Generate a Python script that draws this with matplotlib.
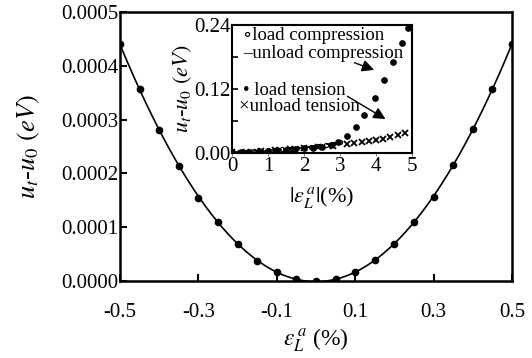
import numpy as np
import matplotlib
matplotlib.use("Agg")
import matplotlib.pyplot as plt

plt.rcParams['font.family'] = ['Liberation Serif', 'DejaVu Serif']
plt.rcParams['mathtext.fontset'] = 'stix'

# main curve: energy vs axial strain
strain = [-0.5, -0.45, -0.4, -0.35, -0.3, -0.25, -0.2, -0.15, -0.1, -0.05, 0.0,
          0.05, 0.1, 0.15, 0.2, 0.25, 0.3, 0.35, 0.4, 0.45, 0.5]
energy = [0.00044, 0.000357, 0.000281, 0.000214, 0.000155, 0.00011, 0.000068, 0.000037,
          0.0000167, 0.000004, 0.0, 0.000004, 0.0000167, 0.000039, 0.000069, 0.00011,
          0.000157, 0.000215, 0.000282, 0.000357, 0.00044]

# inset series
lc_x = [0.0, 0.2, 0.4, 0.6, 0.8, 1.0, 1.2, 1.4, 1.6, 1.8, 2.0, 2.2, 2.4, 2.6, 2.8, 3.0]
lc_y = [0.001, 0.0015, 0.002, 0.003, 0.004, 0.005, 0.006, 0.007, 0.008, 0.009, 0.010,
        0.012, 0.013, 0.015, 0.017, 0.020]
uc_x = [0.1, 0.3, 0.5, 0.7, 0.9, 1.1, 1.3, 1.5, 1.7, 1.9, 2.1, 2.3, 2.5, 2.7, 2.9]
uc_y = [0.001, 0.002, 0.0025, 0.0035, 0.0045, 0.0055, 0.0065, 0.0075, 0.0085, 0.0095,
        0.011, 0.0125, 0.014, 0.016, 0.018]
lt_x = [0.0, 0.25, 0.5, 0.75, 1.0, 1.25, 1.5, 1.75, 2.0, 2.25, 2.5, 2.75, 2.95,
        3.19, 3.44, 3.67, 3.98, 4.22, 4.46, 4.71, 4.9]
lt_y = [0.001, 0.0015, 0.002, 0.003, 0.004, 0.005, 0.006, 0.007, 0.009, 0.010, 0.012,
        0.015, 0.020, 0.031, 0.048, 0.071, 0.104, 0.136, 0.170, 0.207, 0.234]
ut_x = [0.0, 0.4, 0.8, 1.2, 1.6, 2.0, 2.4, 2.8, 3.2, 3.4, 3.6, 3.8, 4.0, 4.2, 4.4, 4.6, 4.8]
ut_y = [0.001, 0.002, 0.004, 0.005, 0.007, 0.009, 0.011, 0.013, 0.017, 0.019, 0.021,
        0.023, 0.025, 0.027, 0.030, 0.033, 0.037]

fig = plt.figure(figsize=(5.32, 3.58), dpi=100)
ax = fig.add_axes([0.2256, 0.2151, 0.7368, 0.7514])

# fitted parabola through the points
coef = np.polyfit(strain, energy, 2)
xs = np.linspace(-0.5, 0.5, 200)
ax.plot(xs, np.polyval(coef, xs), color='black', lw=1.2)
ax.plot(strain, energy, 'o', color='black', ms=4.5)

ax.set_xlim(-0.5, 0.5)
ax.set_ylim(0, 0.0005)
ax.set_xticks([-0.5, -0.3, -0.1, 0.1, 0.3, 0.5])
ax.set_xticklabels(['-0.5', '-0.3', '-0.1', '0.1', '0.3', '0.5'])
ax.set_yticks([0, 0.0001, 0.0002, 0.0003, 0.0004, 0.0005])
ax.set_yticklabels(['0.0000', '0.0001', '0.0002', '0.0003', '0.0004', '0.0005'])
ax.tick_params(direction='in', length=5, width=1.5, labelsize=15)
ax.tick_params(axis='x', pad=16)
ax.tick_params(axis='y', pad=1)
for s in ax.spines.values():
    s.set_linewidth(1.8)
ax.set_xlabel(r'$\varepsilon_L^{\,a}$ (%)', fontsize=17, labelpad=3)
ax.set_ylabel(r'$u_t$-$u_0$ $(eV)$', fontsize=19, labelpad=14)

# inset
ins = fig.add_axes([0.4361, 0.5726, 0.3383, 0.3576])
ins.plot(lc_x, lc_y, 'o', mfc='white', mec='black', ms=3, mew=0.8)
ins.plot(uc_x, uc_y, '_', color='black', ms=4, mew=1.2)
ins.plot(lt_x, lt_y, 'o', color='black', ms=3.8)
ins.plot(ut_x, ut_y, 'x', color='black', ms=4, mew=1.3)
ins.set_xlim(0, 5)
ins.set_ylim(0, 0.24)
ins.set_xticks([0, 1, 2, 3, 4, 5])
ins.set_yticks([0, 0.06, 0.12, 0.18, 0.24])
ins.set_yticklabels(['0.00', '', '0.12', '', '0.24'])
ins.tick_params(axis='y', direction='in', length=4, width=1.2, labelsize=15, pad=1)
ins.tick_params(axis='x', direction='out', length=2, width=0.8, color='gray', labelsize=15, pad=1)
for s in ins.spines.values():
    s.set_linewidth(1.5)
ins.set_xlabel(r'$|\varepsilon_L^{\,a}|$(%)', fontsize=16, labelpad=6)
ins.set_ylabel(r'$u_t$-$u_0$ $(eV)$', fontsize=16, labelpad=0)

ins.text(0.06, 0.92, '\u2218load compression', transform=ins.transAxes, fontsize=13.5, va='center')
ins.text(0.06, 0.78, '\u2013unload compression', transform=ins.transAxes, fontsize=13.5, va='center')
ins.text(0.06, 0.49, '\u2022 load tension', transform=ins.transAxes, fontsize=13.5, va='center')
ins.text(0.04, 0.36, '\u00d7unload tension', transform=ins.transAxes, fontsize=13.5, va='center')
ins.annotate('', xy=(4.02, 0.154), xytext=(3.33, 0.171),
             arrowprops=dict(arrowstyle='-|>', color='black', lw=1, mutation_scale=18))
ins.annotate('', xy=(4.33, 0.061), xytext=(3.14, 0.109),
             arrowprops=dict(arrowstyle='-|>', color='black', lw=1, mutation_scale=18))

fig.savefig('out.png', dpi=100)
